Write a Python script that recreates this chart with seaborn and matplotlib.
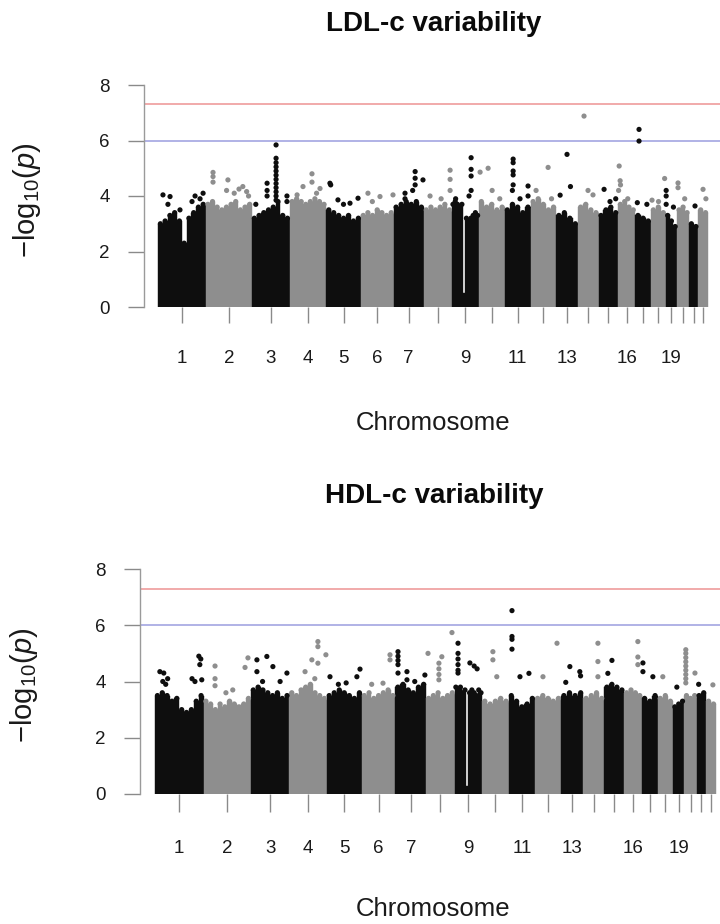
import matplotlib
matplotlib.use('Agg')
import matplotlib.pyplot as plt
import seaborn as sns
import numpy as np
import pandas as pd

sns.set_style('white')
plt.rcParams['font.family'] = ['Liberation Sans', 'DejaVu Sans']
plt.rcParams['mathtext.fontset'] = 'custom'
plt.rcParams['mathtext.rm'] = 'Liberation Sans'
plt.rcParams['mathtext.it'] = 'Liberation Sans:italic'

# ---------------- data ----------------
chrom_len_mb = [249, 243, 198, 191, 181, 171, 159, 146, 141, 136, 135,
                134, 115, 107, 103, 90, 81, 78, 59, 63, 48, 51]
tick_labels = ['1', '2', '3', '4', '5', '6', '7', '', '9', '', '11', '',
               '13', '', '', '16', '', '', '19', '', '', '']

# upper edge of the dense bulk of SNPs, per chromosome (evenly spaced segments)
ldl_body = [
    [3.0, 3.1, 3.3, 3.4, 3.1, 2.3, 3.2, 3.4, 3.6, 3.7],
    [3.7, 3.8, 3.6, 3.5, 3.6, 3.7, 3.8, 3.5, 3.6, 3.7],
    [3.2, 3.3, 3.4, 3.5, 3.6, 3.8, 3.3, 3.2],
    [3.8, 3.9, 3.8, 3.7, 3.8, 3.9, 3.8, 3.7],
    [3.5, 3.4, 3.3, 3.2, 3.3, 3.1, 3.2],
    [3.3, 3.4, 3.3, 3.5, 3.4, 3.3, 3.4],
    [3.6, 3.7, 3.8, 3.7, 3.8, 3.6],
    [3.5, 3.6, 3.5, 3.6, 3.7, 3.5],
    [3.7, 3.8, 3.7, 3.6, 3.7, 0.5, 3.2, 3.1, 3.2, 3.3, 3.4, 3.3],
    [3.8, 3.6, 3.7, 3.5, 3.6],
    [3.5, 3.7, 3.6, 3.4, 3.6],
    [3.8, 3.9, 3.7, 3.5, 3.6],
    [3.3, 3.4, 3.2, 3.0],
    [3.6, 3.7, 3.5, 3.4],
    [3.3, 3.5, 3.6, 3.4],
    [3.7, 3.8, 3.6, 3.5],
    [3.3, 3.2, 3.1],
    [3.5, 3.6, 3.4],
    [3.3, 3.1, 2.9],
    [3.5, 3.6, 3.4],
    [3.0, 2.9],
    [3.5, 3.4],
]
hdl_body = [
    [3.5, 3.6, 3.5, 3.3, 3.4, 3.0, 2.9, 3.0, 3.3, 3.5],
    [3.3, 3.2, 3.0, 3.2, 3.1, 3.3, 3.2, 3.1, 3.2, 3.4],
    [3.7, 3.8, 3.7, 3.6, 3.5, 3.6, 3.4, 3.5],
    [3.6, 3.5, 3.7, 3.8, 3.9, 3.6, 3.5, 3.4],
    [3.5, 3.6, 3.7, 3.6, 3.5, 3.4, 3.6],
    [3.5, 3.6, 3.4, 3.5, 3.6, 3.7, 3.5],
    [3.8, 3.9, 3.7, 3.6, 3.8, 3.9],
    [3.4, 3.5, 3.6, 3.4, 3.5, 3.6],
    [3.8, 3.7, 3.8, 3.6, 3.7, 0.3, 3.6, 3.7, 3.6, 3.5, 3.7, 3.6],
    [3.3, 3.2, 3.3, 3.4, 3.3],
    [3.5, 3.3, 3.1, 3.2, 3.4],
    [3.4, 3.5, 3.4, 3.3, 3.4],
    [3.5, 3.6, 3.5, 3.6],
    [3.4, 3.5, 3.6, 3.4],
    [3.8, 3.9, 3.8, 3.7],
    [3.6, 3.7, 3.6, 3.5],
    [3.4, 3.3, 3.5],
    [3.4, 3.5, 3.3],
    [3.1, 3.2, 3.3],
    [3.5, 3.4, 3.5],
    [3.5, 3.6],
    [3.3, 3.2],
]

# individual SNPs standing above the bulk: (chromosome, position in Mb, -log10 p)
ldl_peaks = [
    (1, 26, 4.04), (1, 63, 3.98), (1, 52, 3.7), (1, 115, 3.5), (1, 194, 4.0),
    (1, 236, 4.1), (1, 220, 3.9), (1, 178, 3.8),
    (2, 39, 4.85), (2, 39, 4.7), (2, 39, 4.5), (2, 117, 4.58), (2, 110, 4.2),
    (2, 150, 4.1), (2, 175, 4.25), (2, 195, 4.34), (2, 215, 4.16), (2, 225, 4.0),
    (3, 126, 5.84), (3, 126, 5.36), (3, 126, 5.2), (3, 126, 5.05), (3, 126, 4.9),
    (3, 126, 4.75), (3, 126, 4.6), (3, 126, 4.45), (3, 126, 4.3), (3, 126, 4.15),
    (3, 126, 4.0), (3, 126, 3.85), (3, 79, 4.46), (3, 79, 4.2), (3, 79, 4.0),
    (3, 183, 4.0), (3, 183, 3.8), (3, 20, 3.7),
    (4, 38, 4.04), (4, 69, 4.34), (4, 116, 4.8), (4, 116, 4.5), (4, 158, 4.27),
    (4, 140, 4.1),
    (5, 19, 4.46), (5, 23, 4.4), (5, 61, 3.86), (5, 124, 3.74), (5, 166, 3.92),
    (5, 90, 3.7),
    (6, 37, 4.1), (6, 100, 3.98), (6, 168, 4.04), (6, 60, 3.8),
    (7, 113, 4.88), (7, 113, 4.64), (7, 113, 4.4), (7, 60, 4.1), (7, 154, 4.58),
    (7, 100, 4.2), (7, 60, 3.9),
    (8, 137, 4.93), (8, 137, 4.6), (8, 137, 4.2), (8, 32, 4.0), (8, 90, 3.9),
    (9, 101, 5.38), (9, 101, 4.96), (9, 101, 4.72), (9, 101, 4.2), (9, 90, 4.0),
    (9, 20, 3.9),
    (10, 7, 4.86), (10, 49, 5.0), (10, 70, 4.2), (10, 110, 3.9),
    (11, 44, 5.33), (11, 44, 5.2), (11, 44, 4.9), (11, 44, 4.76), (11, 44, 4.4),
    (11, 40, 4.2), (11, 122, 4.36), (11, 122, 4.0), (11, 80, 3.9),
    (12, 92, 5.03), (12, 29, 4.2), (12, 110, 3.9),
    (13, 57, 5.5), (13, 21, 4.03), (13, 75, 4.34),
    (14, 31, 6.88), (14, 52, 4.2), (14, 78, 4.04),
    (15, 29, 4.24), (15, 60, 3.8), (15, 90, 3.9),
    (16, 5, 5.08), (16, 10, 4.55), (16, 12, 4.4), (16, 2, 4.2), (16, 50, 3.9),
    (17, 19, 6.4), (17, 19, 5.98), (17, 10, 3.76), (17, 60, 3.7),
    (18, 6, 3.85), (18, 72, 4.63), (18, 40, 3.8),
    (19, 2, 4.2), (19, 2, 4.0), (19, 2, 3.7), (19, 40, 3.6),
    (20, 5, 4.47), (20, 5, 4.3), (20, 40, 3.9),
    (21, 31, 3.64),
    (22, 25, 4.24), (22, 40, 3.9),
]
hdl_peaks = [
    (1, 25, 4.35), (1, 45, 4.3), (1, 65, 4.1), (1, 40, 4.0), (1, 55, 3.9),
    (1, 190, 4.1), (1, 205, 4.0), (1, 225, 4.9), (1, 235, 4.8), (1, 230, 4.6),
    (1, 240, 4.06),
    (2, 59, 4.55), (2, 59, 4.1), (2, 59, 3.85), (2, 115, 3.6), (2, 213, 4.5),
    (2, 228, 4.84), (2, 150, 3.7),
    (3, 31, 4.77), (3, 82, 4.89), (3, 31, 4.35), (3, 113, 4.53), (3, 185, 4.3),
    (3, 60, 4.0), (3, 150, 4.0),
    (4, 146, 5.42), (4, 146, 5.24), (4, 115, 4.77), (4, 146, 4.65), (4, 187, 4.95),
    (4, 80, 4.35), (4, 130, 4.1),
    (5, 17, 4.17), (5, 171, 4.44), (5, 155, 4.17), (5, 60, 3.9), (5, 100, 3.95),
    (6, 144, 4.95), (6, 144, 4.77), (6, 108, 3.94), (6, 50, 3.9),
    (7, 14, 5.06), (7, 14, 4.9), (7, 14, 4.75), (7, 14, 4.6), (7, 14, 4.3),
    (7, 60, 4.35), (7, 60, 4.06), (7, 152, 4.23), (7, 100, 4.0),
    (8, 9, 5.0), (8, 80, 4.88), (8, 132, 5.74), (8, 65, 4.65), (8, 65, 4.45),
    (8, 65, 4.25), (8, 65, 4.06),
    (9, 17, 5.36), (9, 17, 5.0), (9, 17, 4.8), (9, 17, 4.6), (9, 17, 4.4),
    (9, 17, 4.3), (9, 78, 4.66), (9, 100, 4.55), (9, 115, 4.45),
    (10, 55, 5.06), (10, 55, 4.77), (10, 75, 4.17),
    (11, 17, 6.52), (11, 17, 5.6), (11, 17, 5.5), (11, 17, 5.15), (11, 58, 4.17),
    (11, 104, 4.29),
    (12, 113, 5.36), (12, 41, 4.17),
    (13, 45, 4.53), (13, 96, 4.35), (13, 100, 4.2), (13, 24, 3.97),
    (14, 74, 5.36), (14, 74, 4.71), (14, 74, 4.17),
    (15, 39, 4.75), (15, 18, 4.29),
    (16, 69, 5.42), (16, 69, 4.87), (16, 69, 4.6),
    (17, 5, 4.66), (17, 5, 4.35), (17, 56, 4.17),
    (18, 26, 4.17),
    (19, 20, 3.8),
    (20, 7, 5.13), (20, 7, 5.0), (20, 7, 4.85), (20, 7, 4.7), (20, 7, 4.55),
    (20, 7, 4.4), (20, 7, 4.25), (20, 7, 4.1), (20, 7, 3.95), (20, 54, 4.3),
    (21, 10, 3.9),
    (22, 35, 3.88),
]

suggestive_line = 6.0
genomewide_line = 7.3
yticks = [0, 2, 4, 6, 8]

# ---------------- drawing ----------------
BLACK = '#0e0e0e'
GRAY = '#8e8e8e'
TICK = '#8a8a8a'
PAL = {'odd': BLACK, 'even': GRAY}

offsets = np.concatenate([[0], np.cumsum(chrom_len_mb)[:-1]])
total = float(sum(chrom_len_mb))
mids = offsets + np.array(chrom_len_mb) / 2.0


def body_frame(body):
    rows = []
    for i, (L, hs) in enumerate(zip(chrom_len_mb, body)):
        w = L / len(hs)
        for j, h in enumerate(hs):
            rows.append(dict(chrom=i + 1, x=offsets[i] + (j + 0.5) * w, w=w, h=h))
    df = pd.DataFrame(rows)
    df['par'] = np.where(df.chrom % 2 == 1, 'odd', 'even')
    return df


def peak_frame(peaks):
    df = pd.DataFrame(peaks, columns=['chrom', 'pos', 'val'])
    df['x'] = offsets[df.chrom.values - 1] + df.pos
    df['par'] = np.where(df.chrom % 2 == 1, 'odd', 'even')
    return df


W, H = 720, 924
fig = plt.figure(figsize=(W / 100, H / 100), dpi=100)


def make_axes(ax_left, ax_right, data_left, data_right, y0px, y8px):
    ax = fig.add_axes([ax_left / W, 1 - y0px / H, (ax_right - ax_left) / W,
                       (y0px - y8px) / H])
    span = total * (ax_right - ax_left) / (data_right - data_left)
    x0 = -(data_left - ax_left) * total / (data_right - data_left)
    ax.set_xlim(x0, x0 + span)
    ax.set_ylim(0, 8)
    return ax


def draw(ax, body, peaks, tick_len, tick_pad):
    bd = body_frame(body)
    pk = peak_frame(peaks)
    cols = [PAL[p] for p in bd.par]
    ax.bar(bd.x, bd.h, width=bd.w, color=cols, edgecolor=cols,
           linewidth=0.3, align='center', zorder=2)
    tops = bd[bd.h > 1.0]
    sns.scatterplot(data=tops, x='x', y='h', hue='par', palette=PAL, s=14,
                    linewidth=0, legend=False, ax=ax, zorder=3)
    sns.scatterplot(data=pk, x='x', y='val', hue='par', palette=PAL, s=14,
                    linewidth=0, legend=False, ax=ax, zorder=4)
    ax.axhline(genomewide_line, color='#ef9c9c', lw=1.2, zorder=1)
    ax.axhline(suggestive_line, color='#a3a6e2', lw=1.2, zorder=1)
    for s in ['top', 'right', 'bottom']:
        ax.spines[s].set_visible(False)
    ax.spines['left'].set_bounds(0, 8)
    ax.spines['left'].set_color('#9a9a9a')
    ax.spines['left'].set_linewidth(1.0)
    ax.set_xticks(mids)
    ax.set_xticklabels(tick_labels)
    ax.set_yticks(yticks)
    ax.set_yticklabels([str(v) for v in yticks])
    ax.tick_params(axis='x', bottom=True, length=tick_len, width=1.0,
                   color=TICK, pad=tick_pad, labelsize=13.5, labelcolor='#1a1a1a')
    ax.tick_params(axis='y', left=True, length=11.5, width=1.0, color=TICK,
                   pad=13, labelsize=13.5, labelcolor='#1a1a1a')
    ax.set_xlabel('')
    ax.set_ylabel('')
    ax.grid(False)


ax1 = make_axes(144, 720, 158, 708, 307, 85)
draw(ax1, ldl_body, ldl_peaks, 11.5, 19.5)
ax2 = make_axes(140, 720, 155, 716, 794, 569)
draw(ax2, hdl_body, hdl_peaks, 13, 20)

ylab = r'$-\mathrm{log}_{10}(\mathit{p})$'
fig.text(27 / W, 1 - 200 / H, ylab, rotation=90, ha='center', va='center',
         fontsize=21, color='#1a1a1a')
fig.text(24 / W, 1 - 685 / H, ylab, rotation=90, ha='center', va='center',
         fontsize=21, color='#1a1a1a')

fig.text(434 / W, 1 - 31 / H, 'LDL-c variability', ha='center', va='baseline',
         fontsize=20, fontweight='bold', color='#0a0a0a')
fig.text(434 / W, 1 - 503 / H, 'HDL-c variability', ha='center', va='baseline',
         fontsize=20, fontweight='bold', color='#0a0a0a')
fig.text(433 / W, 1 - 430 / H, 'Chromosome', ha='center', va='baseline',
         fontsize=18.5, color='#1a1a1a')
fig.text(433 / W, 1 - 916 / H, 'Chromosome', ha='center', va='baseline',
         fontsize=18.5, color='#1a1a1a')

fig.savefig('out.png', dpi=100)
